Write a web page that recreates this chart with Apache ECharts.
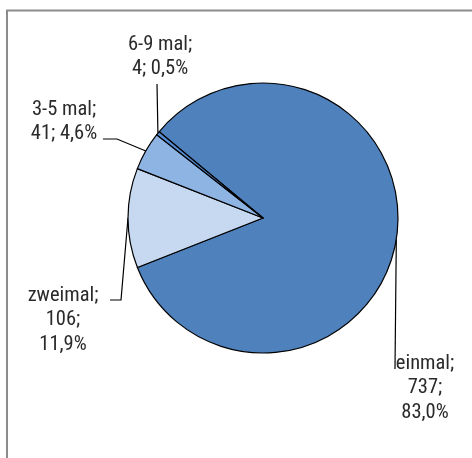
<!DOCTYPE html>
<html>
<head>
<meta charset="utf-8">
<script src="https://cdn.jsdelivr.net/npm/echarts@6/dist/echarts.min.js"></script>
<style>
html,body{margin:0;padding:0;background:#fff;}
#chart{width:472px;height:458px;}
</style>
</head>
<body>
<div id="chart"></div>
<script>
var categories = ['einmal', 'zweimal', '3-5 mal', '6-9 mal'];
var values = [737, 106, 41, 4];
var colors = ['#4F81BD', '#C6D9F1', '#8EB4E3', '#558ED5'];
var labelSeparators = ['\n', '\n', ' ', ' '];

var total = values.reduce(function (a, b) { return a + b; }, 0);
var FONT = '"Roboto Condensed", "DejaVu Sans Condensed", sans-serif';

// label block centers and leader line bends (layout only)
var labelPos = [
  { x: 425, y: 388, bend: [[395, 369], [395, 369]] },
  { x: 63, y: 320, bend: [[121, 300], [110, 300]] },
  { x: 64, y: 122, bend: [[117, 139], [103, 139]] },
  { x: 160, y: 57, bend: [[157, 84], [157, 84]] }
];

var data = categories.map(function (c, i) {
  return { name: c, value: values[i], itemStyle: { color: colors[i] } };
});

var chart = echarts.init(document.getElementById('chart'), null, { renderer: 'canvas' });
chart.setOption({
  animation: false,
  backgroundColor: '#ffffff',
  graphic: [{
    type: 'rect',
    shape: { x: 7, y: 10.5, width: 520, height: 520 },
    style: { fill: 'none', stroke: '#8c8c8c', lineWidth: 2 },
    silent: true
  }],
  series: [{
    type: 'pie',
    center: [263, 218],
    radius: 135,
    startAngle: 140.3,
    clockwise: true,
    avoidLabelOverlap: false,
    data: data,
    itemStyle: { borderColor: '#000', borderWidth: 1.2 },
    label: {
      show: true,
      position: 'outside',
      fontFamily: FONT,
      fontSize: 20.5,
      lineHeight: 24.5,
      color: '#2a2a2a',
      align: 'center',
      formatter: function (p) {
        var pct = (values[p.dataIndex] / total * 100).toFixed(1).replace('.', ',');
        return p.name + ';\n' + values[p.dataIndex] + ';' + labelSeparators[p.dataIndex] + pct + '%';
      }
    },
    labelLine: {
      show: true,
      smooth: false,
      length: 10,
      length2: 10,
      lineStyle: { color: '#000', width: 1.2 }
    },
    labelLayout: function (params) {
      var lp = labelPos[params.dataIndex];
      var start = params.labelLinePoints ? params.labelLinePoints[0] : [0, 0];
      return {
        x: lp.x,
        y: lp.y,
        align: 'center',
        verticalAlign: 'middle',
        labelLinePoints: [start, lp.bend[0], lp.bend[1]]
      };
    },
    emphasis: { disabled: true }
  }]
});
</script>
</body>
</html>
